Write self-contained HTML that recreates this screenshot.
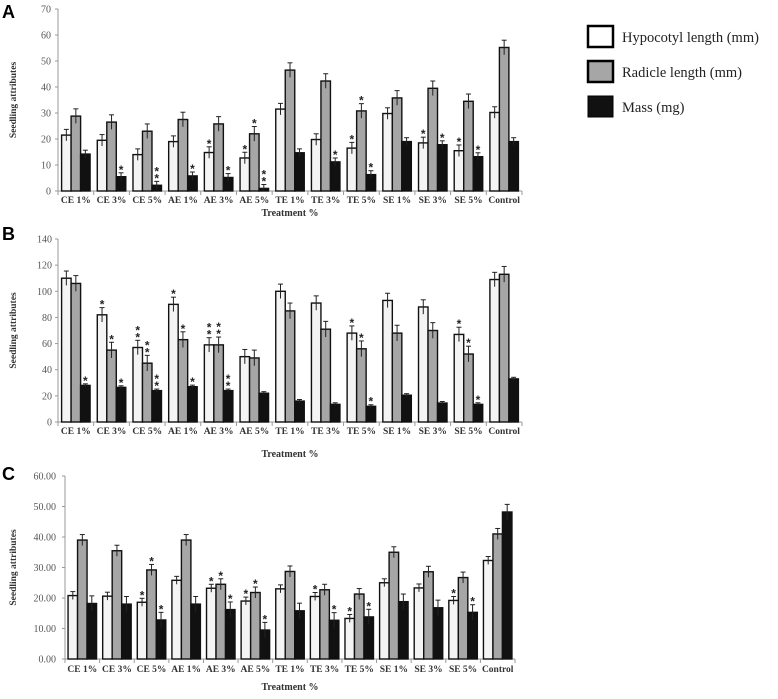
<!DOCTYPE html>
<html><head><meta charset="utf-8"><style>
body{margin:0;background:#fff;width:778px;height:699px;overflow:hidden}
svg{display:block}
text{font-family:"Liberation Serif",serif}
text.sans{font-family:"Liberation Sans",sans-serif}
</style></head><body>
<svg id="chart" width="778" height="699"></svg>
<script>
const categories=["CE 1%","CE 3%","CE 5%","AE 1%","AE 3%","AE 5%","TE 1%","TE 3%","TE 5%","SE 1%","SE 3%","SE 5%","Control"];
const seriesNames=["Hypocotyl length (mm)","Radicle length (mm)","Mass (mg)"];
const A_hyp=[21.5,19.5,14,19,14.8,12.7,31.5,19.8,16.5,29.8,18.5,15.5,30.2];
const A_rad=[28.8,26.5,23,27.5,25.8,22,46.5,42.3,30.8,35.8,39.5,34.5,55.2];
const A_mass=[14.2,5.5,2.2,5.8,5.2,1,14.7,11.2,6.3,19,17.8,13.2,19];
const A_err=[2.2,2.8,1.5];
const A_starH=[0,0,0,0,1,1,0,0,1,0,1,1,0];
const A_starR=[0,0,0,0,0,1,0,0,1,0,0,0,0];
const A_starM=[0,1,2,1,1,2,0,1,1,0,1,1,0];
const A_ticks=[0,10,20,30,40,50,60,70];
const B_hyp=[110,82,57,90,59,50,100,91,68,93,88,67,109];
const B_rad=[106,55,45,63,59,49,85,71,56,68,70,52,113];
const B_mass=[28,26.5,24,27,24,22,16,13.5,12,20.5,14.5,13.5,33];
const B_err=[5.5,6,1.2];
const B_starH=[0,1,2,1,2,0,0,0,1,0,0,1,0];
const B_starR=[0,1,2,1,2,0,0,0,1,0,0,1,0];
const B_starM=[1,1,2,1,2,0,0,0,1,0,0,1,0];
const B_ticks=[0,20,40,60,80,100,120,140];
const C_hyp=[20.8,20.6,18.6,25.8,23.2,19,23,20.5,13.3,25,23.3,19.2,32.3];
const C_rad=[39,35.5,29.2,39,24.5,21.8,28.7,22.7,21.3,35,28.6,26.7,41];
const C_mass=[18.2,18,12.8,18,16.2,9.5,15.8,12.7,13.8,18.8,16.8,15.3,48.2];
const C_err=[1.3,1.8,2.5];
const C_starH=[0,0,1,0,1,1,0,1,1,0,0,1,0];
const C_starR=[0,0,1,0,1,1,0,0,0,0,0,0,0];
const C_starM=[0,0,1,0,1,1,0,1,1,0,0,1,0];
const C_ticks=[0,10,20,30,40,50,60];

const NS="http://www.w3.org/2000/svg";
const svg=document.getElementById('chart');
function mk(tag,attrs,parent){const e=document.createElementNS(NS,tag);for(const k in attrs)e.setAttribute(k,attrs[k]);(parent||svg).appendChild(e);return e;}
const fills=["#f4f4f4","#a6a6a6","#111"];
function panel(id,letter,ly,x0,x1,y0,y1,ticks,dec,series,errs,stars,labelY,titleY,tickRight){
  const g=mk('g',{});
  
  
  const maxV=ticks[ticks.length-1];
  const ys=v=>y0-(v/maxV)*(y0-y1);
  const gw=(x1-x0)/categories.length;
  const L=mk('text',{x:2,y:ly,'font-size':18,'font-weight':'bold','class':'sans'},g);L.textContent=letter;
  
  
  const ax=mk('line',{x1:x0,y1:y0,x2:x0,y2:y1,stroke:'#999','stroke-width':1},g);
  
  
  const bx=mk('line',{x1:x0,y1:y0,x2:x1,y2:y0,stroke:'#999','stroke-width':1},g);
  
  
  ticks.forEach(t=>{
    const tl=mk('text',{x:tickRight,y:ys(t)+3.5,'font-size':10,'text-anchor':'end',fill:'#555'},g);
    tl.textContent=dec?t.toFixed(2):t;
    
    
    mk('line',{x1:x0-3,y1:ys(t),x2:x0,y2:ys(t),stroke:'#999'},g);
  });
  for(let i=0;i<=categories.length;i++){mk('line',{x1:x0+i*gw,y1:y0,x2:x0+i*gw,y2:y0+4,stroke:'#999'},g);}
  categories.forEach((c,i)=>{
    const xl=mk('text',{x:x0+(i+0.5)*gw,y:labelY,'font-size':9.5,'font-weight':'bold','text-anchor':'middle',fill:'#333'},g);
    xl.textContent=c;
    
    
    const bw=9.5, start=x0+i*gw+(gw-3*bw)/2;
    series.forEach((s,k)=>{
      const bxp=start+k*bw, v=s[i], top=ys(v);
      const r=mk('rect',{x:bxp,y:top,width:bw,height:y0-top,fill:fills[k],stroke:'#111','stroke-width':1.4},g);
      
      
      const e=errs[k], cx=bxp+bw/2, et=ys(v+e), eb=ys(Math.max(v-e,0));
      mk('line',{x1:cx,y1:et,x2:cx,y2:eb,stroke:'#222','stroke-width':1},g);
      mk('line',{x1:cx-2.5,y1:et,x2:cx+2.5,y2:et,stroke:'#222','stroke-width':1},g);
      const n=stars[k][i];
      for(let j=0;j<n;j++){
        const st=mk('text',{x:cx,y:et+1-j*7,'font-size':12,'font-weight':'bold','text-anchor':'middle',fill:'#222','class':'sans'},g);
        st.textContent='*';
        
        
      }
    });
  });
  const yt=mk('text',{x:0,y:0,'font-size':9.5,'font-weight':'bold','text-anchor':'middle',fill:'#333',transform:`translate(16,${(y0+y1)/2}) rotate(-90)`},g);
  yt.textContent='Seedling attributes';
  
  
  const xt=mk('text',{x:(x0+x1)/2,y:titleY,'font-size':10,'font-weight':'bold','text-anchor':'middle',fill:'#333'},g);
  xt.textContent='Treatment %';
  
  
}
panel('a','A',18,58,522,191,9,A_ticks,false,[A_hyp,A_rad,A_mass],A_err,[A_starH,A_starR,A_starM],203,216,51);
panel('b','B',240,58,522,422,239,B_ticks,false,[B_hyp,B_rad,B_mass],B_err,[B_starH,B_starR,B_starM],434,457,52);
panel('c','C',480,65,515,659,476,C_ticks,true,[C_hyp,C_rad,C_mass],C_err,[C_starH,C_starR,C_starM],672,690,56);
const leg=mk('g',{});


[26,61,96].forEach((y,k)=>{
  const r=mk('rect',{x:588,y:y,width:25,height:21,fill:k==0?'#fff':fills[k],stroke:'#000','stroke-width':k==2?1:2.5},leg);
  
  
  const t=mk('text',{x:622,y:y+16,'font-size':14.5,fill:'#222'},leg);
  t.textContent=seriesNames[k];
  
  
});
</script>
</body></html>
